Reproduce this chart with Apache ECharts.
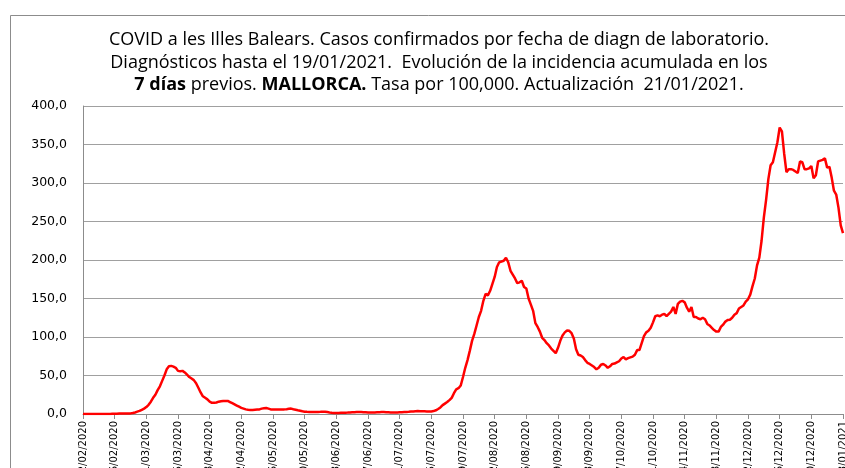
<!DOCTYPE html>
<html>
<head>
<meta charset="utf-8">
<script src="https://cdn.jsdelivr.net/npm/echarts@6/dist/echarts.min.js"></script>
<style>
html,body{margin:0;padding:0;background:#fff;}
#c{width:845px;height:468px;}
</style>
</head>
<body>
<div id="c"></div>
<script>
// First date of the series (day 0) and step between x-axis labels
const startDate = [2020, 2, 12];
const labelStepDays = 14;

// 7-day cumulative incidence per 100,000, Mallorca (daily values)
const incidence = [
  0,0,0,0,0,0,0,0,0,0,
  0,0,0,0.3,0.3,0.3,0.5,0.5,0.5,0.5,
  0.5,0.8,1.2,2,3,4,5.5,7,9,12,
  16,21,25,31,36,43,50,58,62,62.5,
  61.5,60,56,55.5,56,54,51,48,46,44,
  40,34,28,23,21,19,16,14.5,14.5,15,
  16,16.5,17,17,17,15.5,14,12.5,11,9.5,
  8,7,6,5.5,5.2,5.2,5.5,5.8,6,7,
  7.5,7.8,7,6,5.8,5.7,5.7,5.7,5.8,6,
  6.3,6.8,7,6.2,5.5,4.8,4.2,3.5,3,2.8,
  2.7,2.6,2.6,2.6,2.7,2.8,3,3,2.5,2,
  1.6,1.3,1.3,1.4,1.5,1.6,1.7,1.8,2,2.2,
  2.3,2.5,2.6,2.6,2.4,2.2,2,1.8,1.9,2,
  2.2,2.4,2.5,2.6,2.4,2.2,2,1.8,1.9,2.1,
  2.3,2.4,2.5,2.6,2.8,3.1,3.4,3.7,3.9,3.7,
  3.6,3.5,3.4,3.3,3.3,3.8,4.8,6.5,8.5,11.5,
  13.5,15.5,18,21,27,32,33.5,37,48,60,
  70,82,95,104,115,126,134,147,156,154,
  160,169,178,191,197,198,199,203,197,186,
  181,176,170,171,173,165,163,150,142,134,
  118,113,107,99,96,92,89,85,82,79,
  86,95,102,106,108.5,108,105,98,84,77,
  76,74,70,66.5,65,63,61,58,60,64,
  65,63,60,62,65,65.5,67,68.5,72,74,
  71,72.5,73.5,74.5,77,83,83,92,101,106,
  108,112,119,127,128,127,129,130,127,130,
  133,139,130,143,146,147,145,138,133,139,
  126,126,124,123,125,123,117,115,112,109,
  107,107,113,116,120,122,122.5,125,129,131,
  137,139,141,146,149,155,166,176,193,203,
  225,255,278,305,323,327,340,353,372,367,
  338,314,318,318,317,315,313,328,327,318,
  318,319,322,306,310,328,329,330,332,320,
  321,307,290,285,268,245,235
];

// Y axis
const yMin = 0, yMax = 400, yStep = 50;

// Title lines
const titleLine1 = 'COVID a les Illes Balears. Casos confirmados por fecha de diagn de laboratorio.';
const titleLine2 = 'Diagnósticos hasta el 19/01/2021.  Evolución de la incidencia acumulada en los';
const titleLine3Bold1 = '7 días';
const titleLine3Text1 = ' previos. ';
const titleLine3Bold2 = 'MALLORCA.';
const titleLine3Text2 = ' Tasa por 100,000. Actualización  21/01/2021.';

function pad(n){return (n<10?'0':'')+n;}
const dates = [];
{
  const d0 = new Date(Date.UTC(startDate[0], startDate[1]-1, startDate[2]));
  for (let i = 0; i < incidence.length; i++) {
    const d = new Date(d0.getTime() + i*86400000);
    dates.push(pad(d.getUTCDate())+'/'+pad(d.getUTCMonth()+1)+'/'+d.getUTCFullYear());
  }
}

const chart = echarts.init(document.getElementById('c'), null, {renderer:'canvas'});
const titleFont = '"Open Sans", "Noto Sans", sans-serif';
const tfs = 18;
chart.setOption({
  animation:false,
  backgroundColor:'#ffffff',
  graphic:[
    {type:'rect', left:8, top:13, shape:{x:0,y:0,width:900,height:500}, style:{fill:'none', stroke:'#8c8c8c', lineWidth:1}, silent:true, z:-1},
    {type:'text', x:439, y:40, style:{text:titleLine1, font:tfs+'px '+titleFont, fill:'#000', align:'center', verticalAlign:'middle'}},
    {type:'text', x:439, y:62.5, style:{text:titleLine2, font:tfs+'px '+titleFont, fill:'#000', align:'center', verticalAlign:'middle'}},
    {type:'text', x:439, y:85, style:{
      text:'{b|'+titleLine3Bold1+'}{a|'+titleLine3Text1+'}{b|'+titleLine3Bold2+'}{a|'+titleLine3Text2+'}',
      align:'center', verticalAlign:'middle',
      rich:{
        a:{fontSize:tfs, fontFamily:titleFont, color:'#000'},
        b:{fontSize:tfs, fontFamily:titleFont, fontWeight:'bold', color:'#000'}
      }}}
  ],
  grid:{left:83, right:2, top:106, bottom:54, containLabel:false, outerBoundsMode:'none'},
  xAxis:{
    type:'category',
    data:dates,
    boundaryGap:false,
    axisLine:{show:true, lineStyle:{color:'#8c8c8c', width:1}},
    axisTick:{show:true, interval:labelStepDays-1, length:5, lineStyle:{color:'#8c8c8c'}},
    axisLabel:{interval:labelStepDays-1, rotate:90, margin:7, color:'#000', fontSize:10, fontFamily:'"DejaVu Sans", sans-serif', hideOverlap:false},
    splitLine:{show:false}
  },
  yAxis:{
    type:'value',
    min:yMin, max:yMax, interval:yStep,
    axisLine:{show:true, lineStyle:{color:'#8c8c8c', width:1}},
    axisTick:{show:false},
    axisLabel:{margin:16, color:'#000', fontSize:12.5, fontFamily:'"DejaVu Sans", sans-serif',
      formatter:function(v){return v.toFixed(1).replace('.', ',');}},
    splitLine:{show:true, lineStyle:{color:'#a0a0a0', width:1}}
  },
  series:[{
    type:'line',
    data:incidence,
    showSymbol:false,
    symbol:'none',
    smooth:false,
    lineStyle:{color:'#ff0000', width:2.5},
    z:3
  }]
});
</script>
</body>
</html>
